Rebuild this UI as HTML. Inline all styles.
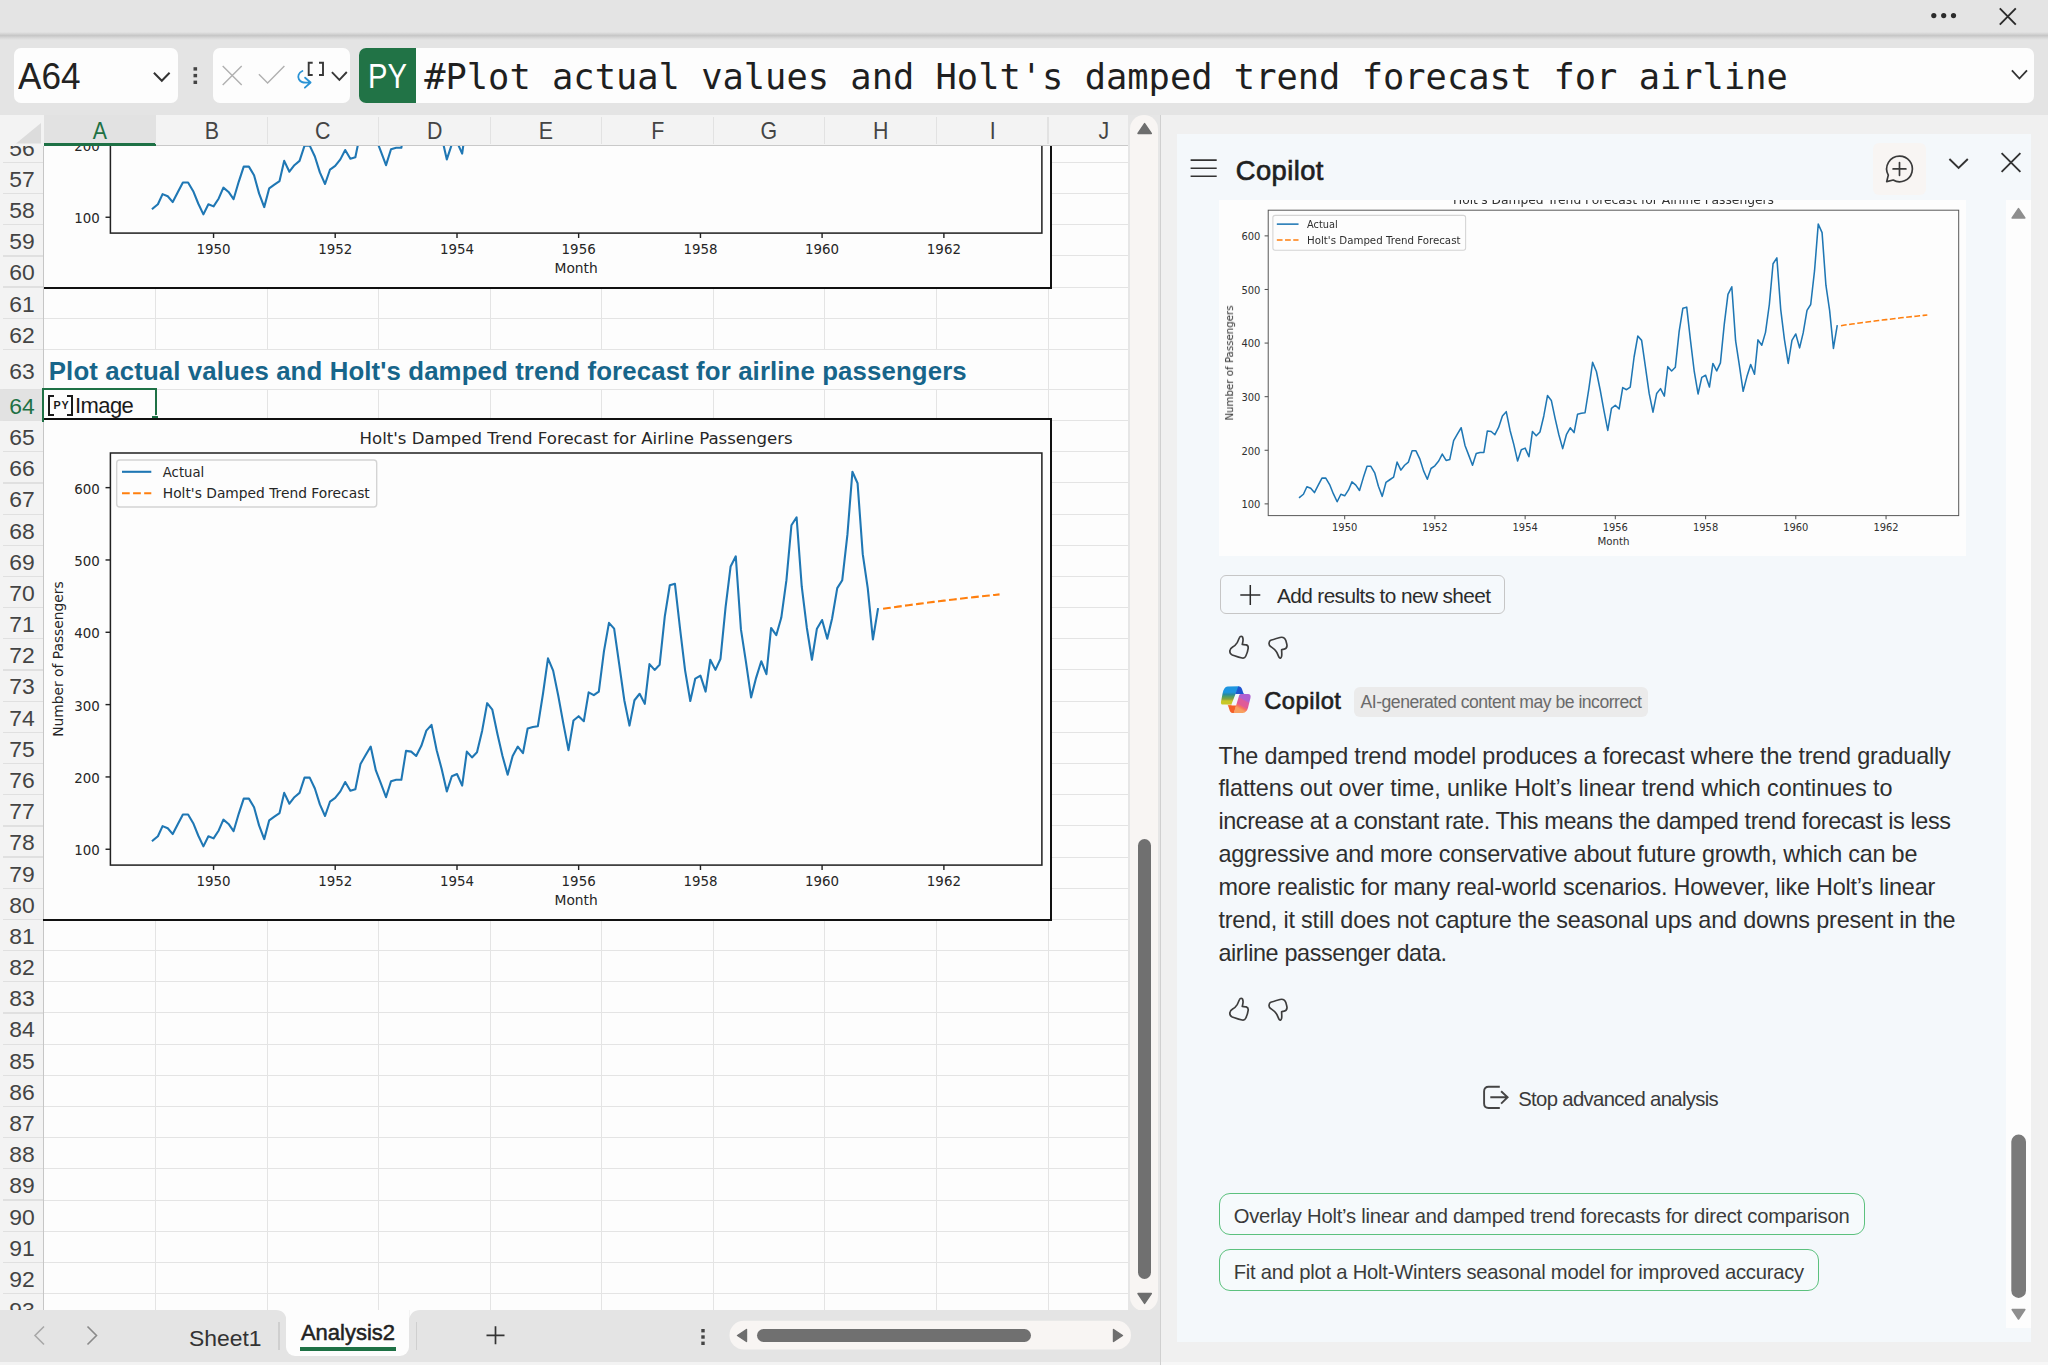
<!DOCTYPE html><html><head><meta charset="utf-8"><title>Excel Copilot</title><style>
*{box-sizing:border-box;margin:0;padding:0}
html,body{width:2048px;height:1365px;overflow:hidden;background:#f0f0f0;font-family:'Liberation Sans',sans-serif;color:#242424}
.abs{position:absolute}
  .rh{position:absolute;left:0;width:44px;text-align:center;font-size:22.9px;color:#444;line-height:24px;height:24px}
.ch{position:absolute;top:115px;height:28.5px;text-align:center;font-size:24px;color:#444;line-height:31.5px;transform:scaleX(0.89)}
.ptext{position:absolute;left:1219px;font-size:22.6px;color:#2b2b2b;white-space:nowrap;line-height:26px;height:26px}
</style></head><body>
<div class="abs" style="left:0;top:0;width:2048px;height:115px;background:#e4e4e4"></div>
<div class="abs" style="left:0;top:32px;width:2048px;height:8px;background:linear-gradient(#e4e4e4,#c6c6c6 45%,#d6d6d6 70%,#e4e4e4)"></div>
<svg class="abs" style="left:1920px;top:0" width="128" height="34" viewBox="0 0 128 34"><g fill="#2b2b2b"><circle cx="13.8" cy="15.6" r="2.6"/><circle cx="23.7" cy="15.6" r="2.6"/><circle cx="33.5" cy="15.6" r="2.6"/></g><path d="M79.8 8.4 L95.8 24.6 M95.8 8.4 L79.8 24.6" stroke="#2b2b2b" stroke-width="1.9" fill="none"/></svg>
<div class="abs" style="left:14px;top:48px;width:164px;height:54.7px;background:#fdfdfd;border-radius:7px"></div>
<div id="nb" class="abs" style="left:18.3px;top:58.17px;font-size:37.60px;line-height:1;white-space:nowrap;color:#222;font-weight:normal;letter-spacing:0.000px;transform:scaleX(0.935);transform-origin:0 0;">A64</div>
<svg class="abs" style="left:150px;top:66px" width="24" height="20" viewBox="0 0 24 20"><path d="M3.9 6.8 L11.8 14.8 L19.6 6.8" stroke="#333" stroke-width="2" fill="none"/></svg>
<svg class="abs" style="left:190px;top:62px" width="10" height="26" viewBox="0 0 10 26"><g fill="#444"><rect x="3.5" y="5.2" width="3.6" height="3.4"/><rect x="3.5" y="11.9" width="3.6" height="3.4"/><rect x="3.5" y="18.6" width="3.6" height="3.4"/></g></svg>
<div class="abs" style="left:212.8px;top:48px;width:137.2px;height:54.7px;background:#fdfdfd;border-radius:7px"></div>
<svg class="abs" style="left:212px;top:48px" width="140" height="55" viewBox="0 0 140 55"><path d="M10.7 18 L29.7 36.9 M29.7 18 L10.7 36.9" stroke="#b0b0b0" stroke-width="1.4" fill="none"/><path d="M46.9 26.3 L55.6 35 L72.4 18" stroke="#b0b0b0" stroke-width="1.4" fill="none"/><path d="M90.4 23 C86.5 24.6 85.4 28.6 86.9 31.2 C88.4 34 91.5 34.6 94 34.6 L98 34.5 M93.1 29.7 L98.6 34.5 L92.9 39.7" stroke="#2a93d5" stroke-width="1.8" fill="none" stroke-linecap="round" stroke-linejoin="round"/><path d="M100.7 14.8 L96.7 14.8 L96.7 27 L100.7 27 M107 14.8 L111 14.8 L111 27 L107 27" stroke="#383838" stroke-width="1.9" fill="none"/><path d="M119.9 24.1 L127.4 31.8 L134.8 24" stroke="#383838" stroke-width="1.9" fill="none"/></svg>
<div class="abs" style="left:358.5px;top:48px;width:1675.5px;height:54.7px;background:#fdfdfd;border-radius:7px;overflow:hidden"><div style="position:absolute;left:0;top:0;width:57.5px;height:55px;background:#217346"></div></div>
<div id="py" class="abs" style="left:368.0px;top:59.28px;font-size:34.40px;line-height:1;white-space:nowrap;color:#fff;font-weight:normal;letter-spacing:0.000px;transform:scaleX(0.850);transform-origin:0 0;">PY</div>
<div class="abs" style="left:424.2px;top:55px;font-family:'DejaVu Sans Mono','Liberation Mono',monospace;font-size:35.4px;line-height:44px;color:#1f1f1f;white-space:pre">#Plot actual values and Holt's damped trend forecast for airline</div>
<svg class="abs" style="left:2006px;top:64px" width="26" height="20" viewBox="0 0 26 20"><path d="M5.9 6.3 L13.4 14.5 L21 6.3" stroke="#333" stroke-width="1.8" fill="none"/></svg>
<div class="abs" style="left:0;top:115px;width:1129px;height:1195px;background:#fdfdfd;overflow:hidden" id="sheet">
<div class="abs" style="left:44px;top:16px;width:1085px;height:1px;background:#e4e4e4"></div><div class="abs" style="left:44px;top:47px;width:1085px;height:1px;background:#e4e4e4"></div><div class="abs" style="left:44px;top:78px;width:1085px;height:1px;background:#e4e4e4"></div><div class="abs" style="left:44px;top:109px;width:1085px;height:1px;background:#e4e4e4"></div><div class="abs" style="left:44px;top:140px;width:1085px;height:1px;background:#e4e4e4"></div><div class="abs" style="left:44px;top:172px;width:1085px;height:1px;background:#e4e4e4"></div><div class="abs" style="left:44px;top:203px;width:1085px;height:1px;background:#e4e4e4"></div><div class="abs" style="left:44px;top:234px;width:1085px;height:1px;background:#e4e4e4"></div><div class="abs" style="left:44px;top:274px;width:1085px;height:1px;background:#e4e4e4"></div><div class="abs" style="left:44px;top:305px;width:1085px;height:1px;background:#e4e4e4"></div><div class="abs" style="left:44px;top:336px;width:1085px;height:1px;background:#e4e4e4"></div><div class="abs" style="left:44px;top:367px;width:1085px;height:1px;background:#e4e4e4"></div><div class="abs" style="left:44px;top:399px;width:1085px;height:1px;background:#e4e4e4"></div><div class="abs" style="left:44px;top:430px;width:1085px;height:1px;background:#e4e4e4"></div><div class="abs" style="left:44px;top:461px;width:1085px;height:1px;background:#e4e4e4"></div><div class="abs" style="left:44px;top:492px;width:1085px;height:1px;background:#e4e4e4"></div><div class="abs" style="left:44px;top:523px;width:1085px;height:1px;background:#e4e4e4"></div><div class="abs" style="left:44px;top:554px;width:1085px;height:1px;background:#e4e4e4"></div><div class="abs" style="left:44px;top:586px;width:1085px;height:1px;background:#e4e4e4"></div><div class="abs" style="left:44px;top:617px;width:1085px;height:1px;background:#e4e4e4"></div><div class="abs" style="left:44px;top:648px;width:1085px;height:1px;background:#e4e4e4"></div><div class="abs" style="left:44px;top:679px;width:1085px;height:1px;background:#e4e4e4"></div><div class="abs" style="left:44px;top:710px;width:1085px;height:1px;background:#e4e4e4"></div><div class="abs" style="left:44px;top:742px;width:1085px;height:1px;background:#e4e4e4"></div><div class="abs" style="left:44px;top:773px;width:1085px;height:1px;background:#e4e4e4"></div><div class="abs" style="left:44px;top:804px;width:1085px;height:1px;background:#e4e4e4"></div><div class="abs" style="left:44px;top:835px;width:1085px;height:1px;background:#e4e4e4"></div><div class="abs" style="left:44px;top:866px;width:1085px;height:1px;background:#e4e4e4"></div><div class="abs" style="left:44px;top:897px;width:1085px;height:1px;background:#e4e4e4"></div><div class="abs" style="left:44px;top:929px;width:1085px;height:1px;background:#e4e4e4"></div><div class="abs" style="left:44px;top:960px;width:1085px;height:1px;background:#e4e4e4"></div><div class="abs" style="left:44px;top:991px;width:1085px;height:1px;background:#e4e4e4"></div><div class="abs" style="left:44px;top:1022px;width:1085px;height:1px;background:#e4e4e4"></div><div class="abs" style="left:44px;top:1053px;width:1085px;height:1px;background:#e4e4e4"></div><div class="abs" style="left:44px;top:1085px;width:1085px;height:1px;background:#e4e4e4"></div><div class="abs" style="left:44px;top:1116px;width:1085px;height:1px;background:#e4e4e4"></div><div class="abs" style="left:44px;top:1147px;width:1085px;height:1px;background:#e4e4e4"></div><div class="abs" style="left:44px;top:1178px;width:1085px;height:1px;background:#e4e4e4"></div><div class="abs" style="left:44px;top:1209px;width:1085px;height:1px;background:#e4e4e4"></div><div class="abs" style="left:155px;top:31px;width:1px;height:1170px;background:#e4e4e4"></div><div class="abs" style="left:267px;top:31px;width:1px;height:1170px;background:#e4e4e4"></div><div class="abs" style="left:378px;top:31px;width:1px;height:1170px;background:#e4e4e4"></div><div class="abs" style="left:490px;top:31px;width:1px;height:1170px;background:#e4e4e4"></div><div class="abs" style="left:601px;top:31px;width:1px;height:1170px;background:#e4e4e4"></div><div class="abs" style="left:713px;top:31px;width:1px;height:1170px;background:#e4e4e4"></div><div class="abs" style="left:824px;top:31px;width:1px;height:1170px;background:#e4e4e4"></div><div class="abs" style="left:936px;top:31px;width:1px;height:1170px;background:#e4e4e4"></div><div class="abs" style="left:1048px;top:31px;width:1px;height:1170px;background:#e4e4e4"></div><div class="abs" style="left:1159px;top:31px;width:1px;height:1170px;background:#e4e4e4"></div>
<div class="abs" style="left:0;top:0;width:1129px;height:31px;background:#f3f3f3"></div>
<div class="abs" style="left:0;top:31px;width:43.6px;height:1170px;background:#f3f3f3"></div>
<div class="abs" style="left:43px;top:31px;width:1.2px;height:1170px;background:#c6c6c6"></div>
<div class="abs" style="left:44px;top:29.8px;width:1085px;height:1.2px;background:#c9c9c9"></div>
<div class="abs" style="left:44px;top:0;width:111.6px;height:31px;background:#e2e2e2"></div>
<div class="abs" style="left:44px;top:28.4px;width:111.6px;height:2.6px;background:#1e7145"></div>
<svg class="abs" style="left:0;top:0" width="44" height="31" viewBox="0 0 44 31"><path d="M41 8 L41 28.5 L16 28.5 Z" fill="#dcdcdc"/></svg>
<div class="ch" style="left:44.0px;width:111.6px;top:0;color:#1e7145">A</div>
<div class="ch" style="left:155.6px;width:111.6px;top:0;color:#444">B</div>
<div class="abs" style="left:155.0px;top:2px;width:1.2px;height:27px;background:#e2e2e2"></div>
<div class="ch" style="left:267.1px;width:111.6px;top:0;color:#444">C</div>
<div class="abs" style="left:266.5px;top:2px;width:1.2px;height:27px;background:#e2e2e2"></div>
<div class="ch" style="left:378.7px;width:111.6px;top:0;color:#444">D</div>
<div class="abs" style="left:378.1px;top:2px;width:1.2px;height:27px;background:#e2e2e2"></div>
<div class="ch" style="left:490.2px;width:111.6px;top:0;color:#444">E</div>
<div class="abs" style="left:489.6px;top:2px;width:1.2px;height:27px;background:#e2e2e2"></div>
<div class="ch" style="left:601.8px;width:111.6px;top:0;color:#444">F</div>
<div class="abs" style="left:601.2px;top:2px;width:1.2px;height:27px;background:#e2e2e2"></div>
<div class="ch" style="left:713.4px;width:111.6px;top:0;color:#444">G</div>
<div class="abs" style="left:712.8px;top:2px;width:1.2px;height:27px;background:#e2e2e2"></div>
<div class="ch" style="left:824.9px;width:111.6px;top:0;color:#444">H</div>
<div class="abs" style="left:824.3px;top:2px;width:1.2px;height:27px;background:#e2e2e2"></div>
<div class="ch" style="left:936.5px;width:111.6px;top:0;color:#444">I</div>
<div class="abs" style="left:935.9px;top:2px;width:1.2px;height:27px;background:#e2e2e2"></div>
<div class="ch" style="left:1048.0px;width:111.6px;top:0;color:#444">J</div>
<div class="abs" style="left:1047.4px;top:2px;width:1.2px;height:27px;background:#e2e2e2"></div>
<div class="rh" style="top:21px;color:#444">56</div>
<div class="abs" style="left:3px;top:15.5px;width:40px;height:1.3px;background:#e0e0e0"></div>
<div class="rh" style="top:52px;color:#444">57</div>
<div class="abs" style="left:3px;top:46.7px;width:40px;height:1.3px;background:#e0e0e0"></div>
<div class="rh" style="top:83px;color:#444">58</div>
<div class="abs" style="left:3px;top:77.9px;width:40px;height:1.3px;background:#e0e0e0"></div>
<div class="rh" style="top:114px;color:#444">59</div>
<div class="abs" style="left:3px;top:109.1px;width:40px;height:1.3px;background:#e0e0e0"></div>
<div class="rh" style="top:145px;color:#444">60</div>
<div class="abs" style="left:3px;top:140.3px;width:40px;height:1.3px;background:#e0e0e0"></div>
<div class="rh" style="top:177px;color:#444">61</div>
<div class="abs" style="left:3px;top:171.4px;width:40px;height:1.3px;background:#e0e0e0"></div>
<div class="rh" style="top:208px;color:#444">62</div>
<div class="abs" style="left:3px;top:202.6px;width:40px;height:1.3px;background:#e0e0e0"></div>
<div class="rh" style="top:244px;color:#444">63</div>
<div class="abs" style="left:3px;top:234.2px;width:40px;height:1.3px;background:#e0e0e0"></div>
<div class="abs" style="left:0;top:273.8px;width:42.5px;height:32.1px;background:#e2e2e2"></div>
<div class="rh" style="top:279px;color:#1e7145">64</div>
<div class="abs" style="left:3px;top:273.9px;width:40px;height:1.3px;background:#e0e0e0"></div>
<div class="rh" style="top:310px;color:#444">65</div>
<div class="abs" style="left:3px;top:304.9px;width:40px;height:1.3px;background:#e0e0e0"></div>
<div class="rh" style="top:341px;color:#444">66</div>
<div class="abs" style="left:3px;top:336.1px;width:40px;height:1.3px;background:#e0e0e0"></div>
<div class="rh" style="top:372px;color:#444">67</div>
<div class="abs" style="left:3px;top:367.3px;width:40px;height:1.3px;background:#e0e0e0"></div>
<div class="rh" style="top:404px;color:#444">68</div>
<div class="abs" style="left:3px;top:398.5px;width:40px;height:1.3px;background:#e0e0e0"></div>
<div class="rh" style="top:435px;color:#444">69</div>
<div class="abs" style="left:3px;top:429.6px;width:40px;height:1.3px;background:#e0e0e0"></div>
<div class="rh" style="top:466px;color:#444">70</div>
<div class="abs" style="left:3px;top:460.8px;width:40px;height:1.3px;background:#e0e0e0"></div>
<div class="rh" style="top:497px;color:#444">71</div>
<div class="abs" style="left:3px;top:492.0px;width:40px;height:1.3px;background:#e0e0e0"></div>
<div class="rh" style="top:528px;color:#444">72</div>
<div class="abs" style="left:3px;top:523.2px;width:40px;height:1.3px;background:#e0e0e0"></div>
<div class="rh" style="top:559px;color:#444">73</div>
<div class="abs" style="left:3px;top:554.4px;width:40px;height:1.3px;background:#e0e0e0"></div>
<div class="rh" style="top:591px;color:#444">74</div>
<div class="abs" style="left:3px;top:585.5px;width:40px;height:1.3px;background:#e0e0e0"></div>
<div class="rh" style="top:622px;color:#444">75</div>
<div class="abs" style="left:3px;top:616.7px;width:40px;height:1.3px;background:#e0e0e0"></div>
<div class="rh" style="top:653px;color:#444">76</div>
<div class="abs" style="left:3px;top:647.9px;width:40px;height:1.3px;background:#e0e0e0"></div>
<div class="rh" style="top:684px;color:#444">77</div>
<div class="abs" style="left:3px;top:679.1px;width:40px;height:1.3px;background:#e0e0e0"></div>
<div class="rh" style="top:715px;color:#444">78</div>
<div class="abs" style="left:3px;top:710.3px;width:40px;height:1.3px;background:#e0e0e0"></div>
<div class="rh" style="top:747px;color:#444">79</div>
<div class="abs" style="left:3px;top:741.4px;width:40px;height:1.3px;background:#e0e0e0"></div>
<div class="rh" style="top:778px;color:#444">80</div>
<div class="abs" style="left:3px;top:772.6px;width:40px;height:1.3px;background:#e0e0e0"></div>
<div class="rh" style="top:809px;color:#444">81</div>
<div class="abs" style="left:3px;top:803.8px;width:40px;height:1.3px;background:#e0e0e0"></div>
<div class="rh" style="top:840px;color:#444">82</div>
<div class="abs" style="left:3px;top:835.0px;width:40px;height:1.3px;background:#e0e0e0"></div>
<div class="rh" style="top:871px;color:#444">83</div>
<div class="abs" style="left:3px;top:866.2px;width:40px;height:1.3px;background:#e0e0e0"></div>
<div class="rh" style="top:902px;color:#444">84</div>
<div class="abs" style="left:3px;top:897.3px;width:40px;height:1.3px;background:#e0e0e0"></div>
<div class="rh" style="top:934px;color:#444">85</div>
<div class="abs" style="left:3px;top:928.5px;width:40px;height:1.3px;background:#e0e0e0"></div>
<div class="rh" style="top:965px;color:#444">86</div>
<div class="abs" style="left:3px;top:959.7px;width:40px;height:1.3px;background:#e0e0e0"></div>
<div class="rh" style="top:996px;color:#444">87</div>
<div class="abs" style="left:3px;top:990.9px;width:40px;height:1.3px;background:#e0e0e0"></div>
<div class="rh" style="top:1027px;color:#444">88</div>
<div class="abs" style="left:3px;top:1022.1px;width:40px;height:1.3px;background:#e0e0e0"></div>
<div class="rh" style="top:1058px;color:#444">89</div>
<div class="abs" style="left:3px;top:1053.2px;width:40px;height:1.3px;background:#e0e0e0"></div>
<div class="rh" style="top:1090px;color:#444">90</div>
<div class="abs" style="left:3px;top:1084.4px;width:40px;height:1.3px;background:#e0e0e0"></div>
<div class="rh" style="top:1121px;color:#444">91</div>
<div class="abs" style="left:3px;top:1115.6px;width:40px;height:1.3px;background:#e0e0e0"></div>
<div class="rh" style="top:1152px;color:#444">92</div>
<div class="abs" style="left:3px;top:1146.8px;width:40px;height:1.3px;background:#e0e0e0"></div>
<div class="rh" style="top:1183px;color:#444">93</div>
<div class="abs" style="left:3px;top:1178.0px;width:40px;height:1.3px;background:#e0e0e0"></div>
<div class="abs" style="left:0;top:0;width:43.8px;height:31px;background:#f3f3f3"></div>
<svg class="abs" style="left:0;top:0" width="44" height="31" viewBox="0 0 44 31"><path d="M41 8 L41 28.5 L16 28.5 Z" fill="#dcdcdc"/></svg>
<div class="abs" style="left:44px;top:31px;width:1085px;height:1164px;overflow:hidden">
<div class="abs" style="left:0;top:-359.5px;width:1007.2px;height:500.6px">
<svg width="1007.20" height="500.60" viewBox="0 0 1007.2 500.6" preserveAspectRatio="none" style="display:block;">
<rect x="0" y="0" width="1007.2" height="500.6" fill="#fdfdfd"/>
<polyline fill="none" stroke="#1f77b4" stroke-width="2.09" stroke-linejoin="round" stroke-linecap="square" points="108.74,421.58 113.91,417.24 118.57,407.12 123.74,409.29 128.74,415.07 133.90,404.95 138.90,395.55 144.07,395.55 149.23,404.22 154.23,416.52 159.40,427.37 164.40,417.24 169.56,419.41 174.73,411.46 179.39,400.61 184.56,404.95 189.56,412.18 194.72,394.82 199.72,379.63 204.89,379.63 210.05,388.31 215.05,406.39 220.22,420.14 225.22,401.33 230.38,397.72 235.55,394.10 240.21,373.85 245.38,384.70 250.38,378.19 255.54,373.85 260.54,358.66 265.71,358.66 270.87,369.51 275.87,385.42 281.04,396.99 286.04,382.53 291.20,378.91 296.37,372.40 301.20,363.00 306.37,371.68 311.36,370.23 316.53,344.92 321.53,336.24 326.69,327.56 331.86,351.43 336.86,364.45 342.02,378.19 347.02,362.28 352.19,360.83 357.35,360.83 362.02,331.90 367.19,332.62 372.18,336.96 377.35,326.84 382.35,311.65 387.51,305.86 392.68,331.18 397.68,349.98 402.84,372.40 407.84,357.21 413.01,355.04 418.17,366.62 422.84,332.62 428.01,338.41 433.00,333.35 438.17,311.65 443.17,284.17 448.33,290.68 453.50,315.27 458.50,336.96 463.66,355.77 468.66,336.96 473.83,327.56 478.99,334.07 483.66,309.48 488.83,308.03 493.82,307.31 498.99,274.77 503.99,239.33 509.15,251.62 514.32,276.94 519.32,304.42 524.48,331.18 529.48,301.53 534.65,297.19 539.82,302.25 544.65,273.32 549.81,276.21 554.81,272.60 559.98,232.09 564.98,203.89 570.14,209.67 575.31,245.84 580.31,281.27 585.47,306.59 590.47,281.27 595.64,274.77 600.80,284.89 605.47,245.11 610.63,250.90 615.63,245.84 620.80,197.38 625.80,166.28 630.96,164.83 636.13,210.40 641.13,251.62 646.29,282.00 651.29,259.58 656.46,256.68 661.62,272.60 666.29,240.77 671.45,250.90 676.45,240.05 681.62,187.98 686.62,147.48 691.78,137.35 696.95,210.40 701.95,242.94 707.11,278.38 712.11,258.85 717.28,242.22 722.44,255.24 727.11,208.95 732.27,216.18 737.27,198.83 742.44,161.22 747.44,106.25 752.60,98.30 757.77,167.73 762.77,208.23 767.93,240.77 772.93,209.67 778.10,201.00 783.26,219.80 788.10,199.55 793.26,169.17 798.26,161.22 803.43,115.65 808.42,52.73 813.59,64.30 818.76,135.18 823.75,169.17 828.92,220.52 833.92,190.15"/>
<rect x="66.40" y="34.00" width="931.50" height="412.10" fill="none" stroke="#222" stroke-width="1.52"/>
<line x1="169.56" y1="446.10" x2="169.56" y2="450.98" stroke="#222" stroke-width="1.42"/>
<text x="169.56" y="466.76" text-anchor="middle" textLength="34.07" lengthAdjust="spacingAndGlyphs" style="font-family:'DejaVu Sans','Liberation Sans',sans-serif;font-size:13.94px" fill="#262626">1950</text>
<line x1="291.20" y1="446.10" x2="291.20" y2="450.98" stroke="#222" stroke-width="1.42"/>
<text x="291.20" y="466.76" text-anchor="middle" textLength="34.07" lengthAdjust="spacingAndGlyphs" style="font-family:'DejaVu Sans','Liberation Sans',sans-serif;font-size:13.94px" fill="#262626">1952</text>
<line x1="413.01" y1="446.10" x2="413.01" y2="450.98" stroke="#222" stroke-width="1.42"/>
<text x="413.01" y="466.76" text-anchor="middle" textLength="34.07" lengthAdjust="spacingAndGlyphs" style="font-family:'DejaVu Sans','Liberation Sans',sans-serif;font-size:13.94px" fill="#262626">1954</text>
<line x1="534.65" y1="446.10" x2="534.65" y2="450.98" stroke="#222" stroke-width="1.42"/>
<text x="534.65" y="466.76" text-anchor="middle" textLength="34.07" lengthAdjust="spacingAndGlyphs" style="font-family:'DejaVu Sans','Liberation Sans',sans-serif;font-size:13.94px" fill="#262626">1956</text>
<line x1="656.46" y1="446.10" x2="656.46" y2="450.98" stroke="#222" stroke-width="1.42"/>
<text x="656.46" y="466.76" text-anchor="middle" textLength="34.07" lengthAdjust="spacingAndGlyphs" style="font-family:'DejaVu Sans','Liberation Sans',sans-serif;font-size:13.94px" fill="#262626">1958</text>
<line x1="778.10" y1="446.10" x2="778.10" y2="450.98" stroke="#222" stroke-width="1.42"/>
<text x="778.10" y="466.76" text-anchor="middle" textLength="34.07" lengthAdjust="spacingAndGlyphs" style="font-family:'DejaVu Sans','Liberation Sans',sans-serif;font-size:13.94px" fill="#262626">1960</text>
<line x1="899.90" y1="446.10" x2="899.90" y2="450.98" stroke="#222" stroke-width="1.42"/>
<text x="899.90" y="466.76" text-anchor="middle" textLength="34.07" lengthAdjust="spacingAndGlyphs" style="font-family:'DejaVu Sans','Liberation Sans',sans-serif;font-size:13.94px" fill="#262626">1962</text>
<line x1="61.52" y1="430.26" x2="66.40" y2="430.26" stroke="#222" stroke-width="1.42"/>
<text x="55.84" y="436.16" text-anchor="end" textLength="25.55" lengthAdjust="spacingAndGlyphs" style="font-family:'DejaVu Sans','Liberation Sans',sans-serif;font-size:13.94px" fill="#262626">100</text>
<line x1="61.52" y1="357.94" x2="66.40" y2="357.94" stroke="#222" stroke-width="1.42"/>
<text x="55.84" y="363.84" text-anchor="end" textLength="25.55" lengthAdjust="spacingAndGlyphs" style="font-family:'DejaVu Sans','Liberation Sans',sans-serif;font-size:13.94px" fill="#262626">200</text>
<line x1="61.52" y1="285.61" x2="66.40" y2="285.61" stroke="#222" stroke-width="1.42"/>
<text x="55.84" y="291.51" text-anchor="end" textLength="25.55" lengthAdjust="spacingAndGlyphs" style="font-family:'DejaVu Sans','Liberation Sans',sans-serif;font-size:13.94px" fill="#262626">300</text>
<line x1="61.52" y1="213.29" x2="66.40" y2="213.29" stroke="#222" stroke-width="1.42"/>
<text x="55.84" y="219.19" text-anchor="end" textLength="25.55" lengthAdjust="spacingAndGlyphs" style="font-family:'DejaVu Sans','Liberation Sans',sans-serif;font-size:13.94px" fill="#262626">400</text>
<line x1="61.52" y1="140.97" x2="66.40" y2="140.97" stroke="#222" stroke-width="1.42"/>
<text x="55.84" y="146.87" text-anchor="end" textLength="25.55" lengthAdjust="spacingAndGlyphs" style="font-family:'DejaVu Sans','Liberation Sans',sans-serif;font-size:13.94px" fill="#262626">500</text>
<line x1="61.52" y1="68.64" x2="66.40" y2="68.64" stroke="#222" stroke-width="1.42"/>
<text x="55.84" y="74.54" text-anchor="end" textLength="25.55" lengthAdjust="spacingAndGlyphs" style="font-family:'DejaVu Sans','Liberation Sans',sans-serif;font-size:13.94px" fill="#262626">600</text>
<text x="532.15" y="486.20" text-anchor="middle" textLength="43.27" lengthAdjust="spacingAndGlyphs" style="font-family:'DejaVu Sans','Liberation Sans',sans-serif;font-size:13.94px" fill="#262626">Month</text>
<text x="0.00" y="0.00" text-anchor="middle" textLength="155.46" lengthAdjust="spacingAndGlyphs" style="font-family:'DejaVu Sans','Liberation Sans',sans-serif;font-size:13.94px" fill="#262626" transform="translate(19.50,240.05) rotate(-90)">Number of Passengers</text>
</svg>
</div>
<div class="abs" style="left:-1px;top:-359.3px;width:1009.3px;height:502.6px;border:2px solid #111;border-left:none"></div>
</div>
<div class="abs" style="left:44.6px;top:235px;width:1002.6px;height:39px;background:#fdfdfd"></div>
<div id="heading" class="abs" style="left:48.8px;top:243.56px;font-size:25.80px;line-height:1;white-space:nowrap;color:#17658a;font-weight:bold;letter-spacing:0.118px;">Plot actual values and Holt's damped trend forecast for airline passengers</div>
<div class="abs" style="left:47.9px;top:279.5px;width:5.7px;height:21.7px;border:2px solid #1a1a1a;border-right:none"></div>
<div class="abs" style="left:67.4px;top:279.5px;width:5.5px;height:21.7px;border:2px solid #1a1a1a;border-left:none"></div>
<div id="cellpy" class="abs" style="left:53.6px;top:285.06px;font-size:10.80px;line-height:1;white-space:nowrap;color:#1a1a1a;font-weight:bold;letter-spacing:0.597px;">PY</div>
<div id="cellimg" class="abs" style="left:75.1px;top:279.78px;font-size:22.00px;line-height:1;white-space:nowrap;color:#1a1a1a;font-weight:normal;letter-spacing:-0.611px;">Image</div>
<div class="abs" style="left:44px;top:304.0px;width:1007.2px;height:500.6px">
<svg width="1007.20" height="500.60" viewBox="0 0 1007.2 500.6" preserveAspectRatio="none" style="display:block;">
<rect x="0" y="0" width="1007.2" height="500.6" fill="#fdfdfd"/>
<polyline fill="none" stroke="#1f77b4" stroke-width="2.09" stroke-linejoin="round" stroke-linecap="square" points="108.74,421.58 113.91,417.24 118.57,407.12 123.74,409.29 128.74,415.07 133.90,404.95 138.90,395.55 144.07,395.55 149.23,404.22 154.23,416.52 159.40,427.37 164.40,417.24 169.56,419.41 174.73,411.46 179.39,400.61 184.56,404.95 189.56,412.18 194.72,394.82 199.72,379.63 204.89,379.63 210.05,388.31 215.05,406.39 220.22,420.14 225.22,401.33 230.38,397.72 235.55,394.10 240.21,373.85 245.38,384.70 250.38,378.19 255.54,373.85 260.54,358.66 265.71,358.66 270.87,369.51 275.87,385.42 281.04,396.99 286.04,382.53 291.20,378.91 296.37,372.40 301.20,363.00 306.37,371.68 311.36,370.23 316.53,344.92 321.53,336.24 326.69,327.56 331.86,351.43 336.86,364.45 342.02,378.19 347.02,362.28 352.19,360.83 357.35,360.83 362.02,331.90 367.19,332.62 372.18,336.96 377.35,326.84 382.35,311.65 387.51,305.86 392.68,331.18 397.68,349.98 402.84,372.40 407.84,357.21 413.01,355.04 418.17,366.62 422.84,332.62 428.01,338.41 433.00,333.35 438.17,311.65 443.17,284.17 448.33,290.68 453.50,315.27 458.50,336.96 463.66,355.77 468.66,336.96 473.83,327.56 478.99,334.07 483.66,309.48 488.83,308.03 493.82,307.31 498.99,274.77 503.99,239.33 509.15,251.62 514.32,276.94 519.32,304.42 524.48,331.18 529.48,301.53 534.65,297.19 539.82,302.25 544.65,273.32 549.81,276.21 554.81,272.60 559.98,232.09 564.98,203.89 570.14,209.67 575.31,245.84 580.31,281.27 585.47,306.59 590.47,281.27 595.64,274.77 600.80,284.89 605.47,245.11 610.63,250.90 615.63,245.84 620.80,197.38 625.80,166.28 630.96,164.83 636.13,210.40 641.13,251.62 646.29,282.00 651.29,259.58 656.46,256.68 661.62,272.60 666.29,240.77 671.45,250.90 676.45,240.05 681.62,187.98 686.62,147.48 691.78,137.35 696.95,210.40 701.95,242.94 707.11,278.38 712.11,258.85 717.28,242.22 722.44,255.24 727.11,208.95 732.27,216.18 737.27,198.83 742.44,161.22 747.44,106.25 752.60,98.30 757.77,167.73 762.77,208.23 767.93,240.77 772.93,209.67 778.10,201.00 783.26,219.80 788.10,199.55 793.26,169.17 798.26,161.22 803.43,115.65 808.42,52.73 813.59,64.30 818.76,135.18 823.75,169.17 828.92,220.52 833.92,190.15"/>
<polyline fill="none" stroke="#ff7f0e" stroke-width="2.09" stroke-dasharray="7.74 3.35" points="839.08,189.79 844.25,189.05 848.92,188.33 854.08,187.61 859.08,186.91 864.25,186.22 869.24,185.54 874.41,184.86 879.58,184.20 884.57,183.55 889.74,182.91 894.74,182.28 899.90,181.65 905.07,181.04 909.74,180.44 914.90,179.84 919.90,179.26 925.07,178.68 930.06,178.11 935.23,177.55 940.40,177.00 945.39,176.46 950.56,175.92 955.56,175.39"/>
<rect x="66.40" y="34.00" width="931.50" height="412.10" fill="none" stroke="#222" stroke-width="1.52"/>
<line x1="169.56" y1="446.10" x2="169.56" y2="450.98" stroke="#222" stroke-width="1.42"/>
<text x="169.56" y="466.76" text-anchor="middle" textLength="34.07" lengthAdjust="spacingAndGlyphs" style="font-family:'DejaVu Sans','Liberation Sans',sans-serif;font-size:13.94px" fill="#262626">1950</text>
<line x1="291.20" y1="446.10" x2="291.20" y2="450.98" stroke="#222" stroke-width="1.42"/>
<text x="291.20" y="466.76" text-anchor="middle" textLength="34.07" lengthAdjust="spacingAndGlyphs" style="font-family:'DejaVu Sans','Liberation Sans',sans-serif;font-size:13.94px" fill="#262626">1952</text>
<line x1="413.01" y1="446.10" x2="413.01" y2="450.98" stroke="#222" stroke-width="1.42"/>
<text x="413.01" y="466.76" text-anchor="middle" textLength="34.07" lengthAdjust="spacingAndGlyphs" style="font-family:'DejaVu Sans','Liberation Sans',sans-serif;font-size:13.94px" fill="#262626">1954</text>
<line x1="534.65" y1="446.10" x2="534.65" y2="450.98" stroke="#222" stroke-width="1.42"/>
<text x="534.65" y="466.76" text-anchor="middle" textLength="34.07" lengthAdjust="spacingAndGlyphs" style="font-family:'DejaVu Sans','Liberation Sans',sans-serif;font-size:13.94px" fill="#262626">1956</text>
<line x1="656.46" y1="446.10" x2="656.46" y2="450.98" stroke="#222" stroke-width="1.42"/>
<text x="656.46" y="466.76" text-anchor="middle" textLength="34.07" lengthAdjust="spacingAndGlyphs" style="font-family:'DejaVu Sans','Liberation Sans',sans-serif;font-size:13.94px" fill="#262626">1958</text>
<line x1="778.10" y1="446.10" x2="778.10" y2="450.98" stroke="#222" stroke-width="1.42"/>
<text x="778.10" y="466.76" text-anchor="middle" textLength="34.07" lengthAdjust="spacingAndGlyphs" style="font-family:'DejaVu Sans','Liberation Sans',sans-serif;font-size:13.94px" fill="#262626">1960</text>
<line x1="899.90" y1="446.10" x2="899.90" y2="450.98" stroke="#222" stroke-width="1.42"/>
<text x="899.90" y="466.76" text-anchor="middle" textLength="34.07" lengthAdjust="spacingAndGlyphs" style="font-family:'DejaVu Sans','Liberation Sans',sans-serif;font-size:13.94px" fill="#262626">1962</text>
<line x1="61.52" y1="430.26" x2="66.40" y2="430.26" stroke="#222" stroke-width="1.42"/>
<text x="55.84" y="436.16" text-anchor="end" textLength="25.55" lengthAdjust="spacingAndGlyphs" style="font-family:'DejaVu Sans','Liberation Sans',sans-serif;font-size:13.94px" fill="#262626">100</text>
<line x1="61.52" y1="357.94" x2="66.40" y2="357.94" stroke="#222" stroke-width="1.42"/>
<text x="55.84" y="363.84" text-anchor="end" textLength="25.55" lengthAdjust="spacingAndGlyphs" style="font-family:'DejaVu Sans','Liberation Sans',sans-serif;font-size:13.94px" fill="#262626">200</text>
<line x1="61.52" y1="285.61" x2="66.40" y2="285.61" stroke="#222" stroke-width="1.42"/>
<text x="55.84" y="291.51" text-anchor="end" textLength="25.55" lengthAdjust="spacingAndGlyphs" style="font-family:'DejaVu Sans','Liberation Sans',sans-serif;font-size:13.94px" fill="#262626">300</text>
<line x1="61.52" y1="213.29" x2="66.40" y2="213.29" stroke="#222" stroke-width="1.42"/>
<text x="55.84" y="219.19" text-anchor="end" textLength="25.55" lengthAdjust="spacingAndGlyphs" style="font-family:'DejaVu Sans','Liberation Sans',sans-serif;font-size:13.94px" fill="#262626">400</text>
<line x1="61.52" y1="140.97" x2="66.40" y2="140.97" stroke="#222" stroke-width="1.42"/>
<text x="55.84" y="146.87" text-anchor="end" textLength="25.55" lengthAdjust="spacingAndGlyphs" style="font-family:'DejaVu Sans','Liberation Sans',sans-serif;font-size:13.94px" fill="#262626">500</text>
<line x1="61.52" y1="68.64" x2="66.40" y2="68.64" stroke="#222" stroke-width="1.42"/>
<text x="55.84" y="74.54" text-anchor="end" textLength="25.55" lengthAdjust="spacingAndGlyphs" style="font-family:'DejaVu Sans','Liberation Sans',sans-serif;font-size:13.94px" fill="#262626">600</text>
<text x="532.15" y="486.20" text-anchor="middle" textLength="43.27" lengthAdjust="spacingAndGlyphs" style="font-family:'DejaVu Sans','Liberation Sans',sans-serif;font-size:13.94px" fill="#262626">Month</text>
<text x="0.00" y="0.00" text-anchor="middle" textLength="155.46" lengthAdjust="spacingAndGlyphs" style="font-family:'DejaVu Sans','Liberation Sans',sans-serif;font-size:13.94px" fill="#262626" transform="translate(19.50,240.05) rotate(-90)">Number of Passengers</text>
<text x="532.15" y="25.00" text-anchor="middle" textLength="433.09" lengthAdjust="spacingAndGlyphs" style="font-family:'DejaVu Sans','Liberation Sans',sans-serif;font-size:16.73px" fill="#262626">Holt's Damped Trend Forecast for Airline Passengers</text>
<rect x="72.70" y="41.00" width="260.00" height="47.00" rx="3" fill="#fdfdfd" fill-opacity="0.8" stroke="#d4d4d4" stroke-width="1.4"/>
<line x1="78.00" y1="52.80" x2="107.30" y2="52.80" stroke="#1f77b4" stroke-width="2.09"/>
<line x1="78.00" y1="74.20" x2="107.30" y2="74.20" stroke="#ff7f0e" stroke-width="2.09" stroke-dasharray="7.74 3.35"/>
<text x="118.80" y="57.80" text-anchor="start" textLength="41.50" lengthAdjust="spacingAndGlyphs" style="font-family:'DejaVu Sans','Liberation Sans',sans-serif;font-size:13.94px" fill="#262626">Actual</text>
<text x="118.80" y="79.20" text-anchor="start" textLength="206.98" lengthAdjust="spacingAndGlyphs" style="font-family:'DejaVu Sans','Liberation Sans',sans-serif;font-size:13.94px" fill="#262626">Holt's Damped Trend Forecast</text>
</svg>
</div>
<div class="abs" style="left:43px;top:303.0px;width:1009.3px;height:502.6px;border:2px solid #111;border-left:none"></div>
<div class="abs" style="left:42.2px;top:272.5px;width:2.2px;height:34.7px;background:#1e7145"></div>
<div class="abs" style="left:42.2px;top:272.5px;width:115.1px;height:2.2px;background:#1e7145"></div>
<div class="abs" style="left:155.1px;top:272.5px;width:2.2px;height:27.5px;background:#1e7145"></div>
<div class="abs" style="left:152px;top:301.0px;width:5.8px;height:2.2px;background:#1e7145"></div>
</div>
<div class="abs" style="left:1128.2px;top:115px;width:32px;height:1250px;background:#e6e6e6"></div>
<div class="abs" style="left:1130.4px;top:114.6px;width:28px;height:1196px;background:#f8f5f3;border-radius:14px"></div>
<svg class="abs" style="left:1130px;top:115px" width="29" height="1196" viewBox="0 0 29 1196"><path d="M8 18.5 L21.3 18.5 L14.6 8.6 Z" fill="#6e6e6e" stroke="#6e6e6e" stroke-width="1.5" stroke-linejoin="round"/><path d="M8 1178.5 L21.3 1178.5 L14.6 1188.4 Z" fill="#6e6e6e" stroke="#6e6e6e" stroke-width="1.5" stroke-linejoin="round"/><rect x="8" y="724" width="13" height="440" rx="6.5" fill="#707070"/></svg>
<div class="abs" style="left:1159.8px;top:115px;width:1.4px;height:1250px;background:#d0d0d0"></div>
<div class="abs" style="left:0;top:1310px;width:1160px;height:55px;background:#e4e4e4"></div>
<div class="abs" style="left:0;top:1361.5px;width:1160px;height:3.5px;background:#f3f3f3"></div>
<div class="abs" style="left:286.3px;top:1310px;width:123.1px;height:45.8px;background:#fdfdfd;border-radius:0 0 9px 9px"></div>
<svg class="abs" style="left:276px;top:1310px" width="144" height="12" viewBox="0 0 144 12"><path d="M0 0 L10.3 0 L10.3 10 C10.3 4 6 0 0 0 Z M144 0 L133.4 0 L133.4 10 C133.4 4 138 0 144 0 Z" fill="#fdfdfd"/></svg>
<div class="abs" style="left:300px;top:1319px;width:96px;text-align:center;font-size:22px;color:#222;line-height:28px;white-space:nowrap;-webkit-text-stroke:0.5px #222" id="tabA">Analysis2</div>
<div class="abs" style="left:300px;top:1347px;width:96px;height:4px;background:#1e7145"></div>
<div class="abs" style="left:189px;top:1324px;font-size:22.9px;color:#333;line-height:28px;white-space:nowrap" id="tabS">Sheet1</div>
<div class="abs" style="left:278.4px;top:1322px;width:1.3px;height:28px;background:#cfcfcf"></div>
<div class="abs" style="left:416.2px;top:1322px;width:1.3px;height:28px;background:#cfcfcf"></div>
<svg class="abs" style="left:0;top:1310px" width="1160" height="55" viewBox="0 0 1160 55"><path d="M44 16.5 L35 25.5 L44 34.5" stroke="#a8a8a8" stroke-width="1.6" fill="none"/><path d="M87.5 16.5 L96.5 25.5 L87.5 34.5" stroke="#8a8a8a" stroke-width="1.6" fill="none"/><path d="M486.5 25.3 L504.5 25.3 M495.5 16.3 L495.5 34.3" stroke="#333" stroke-width="1.7" fill="none"/><g fill="#444"><rect x="701.3" y="19" width="3.4" height="3.4"/><rect x="701.3" y="25.3" width="3.4" height="3.4"/><rect x="701.3" y="31.6" width="3.4" height="3.4"/></g><rect x="729.5" y="10.8" width="401.5" height="28.7" rx="14.3" fill="#f8f5f3"/><path d="M746.5 19.5 L746.5 31.5 L737.5 25.5 Z" fill="#6e6e6e" stroke="#6e6e6e" stroke-width="1.4" stroke-linejoin="round"/><path d="M1113.5 19.5 L1113.5 31.5 L1122.5 25.5 Z" fill="#6e6e6e" stroke="#6e6e6e" stroke-width="1.4" stroke-linejoin="round"/><rect x="757" y="19" width="274" height="13" rx="6.5" fill="#707070"/></svg>
<div class="abs" style="left:1177.3px;top:134.2px;width:853.3px;height:1208.2px;background:#f4f8fb"></div>
<div class="abs" style="left:1161px;top:1361.8px;width:887px;height:3.2px;background:#f7f7f7"></div>
<svg class="abs" style="left:1185px;top:150px" width="40" height="36" viewBox="0 0 40 36"><path d="M5.6 10.1 H31.7 M5.6 18.2 H31.7 M5.6 26.3 H31.7" stroke="#333" stroke-width="1.6" fill="none"/></svg>
<div id="hdr" class="abs" style="left:1235.8px;top:156.69px;font-size:27.30px;line-height:1;white-space:nowrap;color:#1f1f1f;font-weight:normal;letter-spacing:0.431px;-webkit-text-stroke:0.7px #1f1f1f;">Copilot</div>
<div class="abs" style="left:1873px;top:142.8px;width:53px;height:52.1px;background:#f8f5f3;border-radius:6px"></div>
<svg class="abs" style="left:1873px;top:143px" width="53" height="52" viewBox="0 0 53 52"><path d="M26.5 13.1 A12.8 12.8 0 1 1 20.2 37.0 L13.7 38.6 L15.3 32.1 A12.8 12.8 0 0 1 26.5 13.1 Z" stroke="#3a3a3a" stroke-width="1.7" fill="none" stroke-linejoin="round"/><path d="M20.1 25.9 H32.9 M26.5 19.5 V32.3" stroke="#3a3a3a" stroke-width="1.7" fill="none" stroke-linecap="round"/></svg>
<svg class="abs" style="left:1940px;top:148px" width="90" height="30" viewBox="0 0 90 30"><path d="M9.4 11 L18.6 20 L27.8 11" stroke="#333" stroke-width="1.9" fill="none"/><path d="M61.6 5.1 L80.4 23.8 M80.4 5.1 L61.6 23.8" stroke="#333" stroke-width="1.9" fill="none"/></svg>
<div class="abs" style="left:1177.3px;top:200px;width:853.3px;height:1142.4px;overflow:hidden">
<div class="abs" style="left:42px;top:-15.4px;width:746.6px;height:371px;background:#fdfdfd">
<svg width="746.60" height="371.00" viewBox="0 0 1007.2 500.6" preserveAspectRatio="none" style="display:block;filter:blur(0.35px);">
<rect x="0" y="0" width="1007.2" height="500.6" fill="#fdfdfd"/>
<polyline fill="none" stroke="#1f77b4" stroke-width="2.09" stroke-linejoin="round" stroke-linecap="square" points="108.74,421.58 113.91,417.24 118.57,407.12 123.74,409.29 128.74,415.07 133.90,404.95 138.90,395.55 144.07,395.55 149.23,404.22 154.23,416.52 159.40,427.37 164.40,417.24 169.56,419.41 174.73,411.46 179.39,400.61 184.56,404.95 189.56,412.18 194.72,394.82 199.72,379.63 204.89,379.63 210.05,388.31 215.05,406.39 220.22,420.14 225.22,401.33 230.38,397.72 235.55,394.10 240.21,373.85 245.38,384.70 250.38,378.19 255.54,373.85 260.54,358.66 265.71,358.66 270.87,369.51 275.87,385.42 281.04,396.99 286.04,382.53 291.20,378.91 296.37,372.40 301.20,363.00 306.37,371.68 311.36,370.23 316.53,344.92 321.53,336.24 326.69,327.56 331.86,351.43 336.86,364.45 342.02,378.19 347.02,362.28 352.19,360.83 357.35,360.83 362.02,331.90 367.19,332.62 372.18,336.96 377.35,326.84 382.35,311.65 387.51,305.86 392.68,331.18 397.68,349.98 402.84,372.40 407.84,357.21 413.01,355.04 418.17,366.62 422.84,332.62 428.01,338.41 433.00,333.35 438.17,311.65 443.17,284.17 448.33,290.68 453.50,315.27 458.50,336.96 463.66,355.77 468.66,336.96 473.83,327.56 478.99,334.07 483.66,309.48 488.83,308.03 493.82,307.31 498.99,274.77 503.99,239.33 509.15,251.62 514.32,276.94 519.32,304.42 524.48,331.18 529.48,301.53 534.65,297.19 539.82,302.25 544.65,273.32 549.81,276.21 554.81,272.60 559.98,232.09 564.98,203.89 570.14,209.67 575.31,245.84 580.31,281.27 585.47,306.59 590.47,281.27 595.64,274.77 600.80,284.89 605.47,245.11 610.63,250.90 615.63,245.84 620.80,197.38 625.80,166.28 630.96,164.83 636.13,210.40 641.13,251.62 646.29,282.00 651.29,259.58 656.46,256.68 661.62,272.60 666.29,240.77 671.45,250.90 676.45,240.05 681.62,187.98 686.62,147.48 691.78,137.35 696.95,210.40 701.95,242.94 707.11,278.38 712.11,258.85 717.28,242.22 722.44,255.24 727.11,208.95 732.27,216.18 737.27,198.83 742.44,161.22 747.44,106.25 752.60,98.30 757.77,167.73 762.77,208.23 767.93,240.77 772.93,209.67 778.10,201.00 783.26,219.80 788.10,199.55 793.26,169.17 798.26,161.22 803.43,115.65 808.42,52.73 813.59,64.30 818.76,135.18 823.75,169.17 828.92,220.52 833.92,190.15"/>
<polyline fill="none" stroke="#ff7f0e" stroke-width="2.09" stroke-dasharray="7.74 3.35" points="839.08,189.79 844.25,189.05 848.92,188.33 854.08,187.61 859.08,186.91 864.25,186.22 869.24,185.54 874.41,184.86 879.58,184.20 884.57,183.55 889.74,182.91 894.74,182.28 899.90,181.65 905.07,181.04 909.74,180.44 914.90,179.84 919.90,179.26 925.07,178.68 930.06,178.11 935.23,177.55 940.40,177.00 945.39,176.46 950.56,175.92 955.56,175.39"/>
<rect x="66.40" y="34.00" width="931.50" height="412.10" fill="none" stroke="#555" stroke-width="1.32"/>
<line x1="169.56" y1="446.10" x2="169.56" y2="450.98" stroke="#555" stroke-width="1.42"/>
<text x="169.56" y="466.76" text-anchor="middle" textLength="34.07" lengthAdjust="spacingAndGlyphs" style="font-family:'DejaVu Sans','Liberation Sans',sans-serif;font-size:13.94px" fill="#303030">1950</text>
<line x1="291.20" y1="446.10" x2="291.20" y2="450.98" stroke="#555" stroke-width="1.42"/>
<text x="291.20" y="466.76" text-anchor="middle" textLength="34.07" lengthAdjust="spacingAndGlyphs" style="font-family:'DejaVu Sans','Liberation Sans',sans-serif;font-size:13.94px" fill="#303030">1952</text>
<line x1="413.01" y1="446.10" x2="413.01" y2="450.98" stroke="#555" stroke-width="1.42"/>
<text x="413.01" y="466.76" text-anchor="middle" textLength="34.07" lengthAdjust="spacingAndGlyphs" style="font-family:'DejaVu Sans','Liberation Sans',sans-serif;font-size:13.94px" fill="#303030">1954</text>
<line x1="534.65" y1="446.10" x2="534.65" y2="450.98" stroke="#555" stroke-width="1.42"/>
<text x="534.65" y="466.76" text-anchor="middle" textLength="34.07" lengthAdjust="spacingAndGlyphs" style="font-family:'DejaVu Sans','Liberation Sans',sans-serif;font-size:13.94px" fill="#303030">1956</text>
<line x1="656.46" y1="446.10" x2="656.46" y2="450.98" stroke="#555" stroke-width="1.42"/>
<text x="656.46" y="466.76" text-anchor="middle" textLength="34.07" lengthAdjust="spacingAndGlyphs" style="font-family:'DejaVu Sans','Liberation Sans',sans-serif;font-size:13.94px" fill="#303030">1958</text>
<line x1="778.10" y1="446.10" x2="778.10" y2="450.98" stroke="#555" stroke-width="1.42"/>
<text x="778.10" y="466.76" text-anchor="middle" textLength="34.07" lengthAdjust="spacingAndGlyphs" style="font-family:'DejaVu Sans','Liberation Sans',sans-serif;font-size:13.94px" fill="#303030">1960</text>
<line x1="899.90" y1="446.10" x2="899.90" y2="450.98" stroke="#555" stroke-width="1.42"/>
<text x="899.90" y="466.76" text-anchor="middle" textLength="34.07" lengthAdjust="spacingAndGlyphs" style="font-family:'DejaVu Sans','Liberation Sans',sans-serif;font-size:13.94px" fill="#303030">1962</text>
<line x1="61.52" y1="430.26" x2="66.40" y2="430.26" stroke="#555" stroke-width="1.42"/>
<text x="55.84" y="436.16" text-anchor="end" textLength="25.55" lengthAdjust="spacingAndGlyphs" style="font-family:'DejaVu Sans','Liberation Sans',sans-serif;font-size:13.94px" fill="#303030">100</text>
<line x1="61.52" y1="357.94" x2="66.40" y2="357.94" stroke="#555" stroke-width="1.42"/>
<text x="55.84" y="363.84" text-anchor="end" textLength="25.55" lengthAdjust="spacingAndGlyphs" style="font-family:'DejaVu Sans','Liberation Sans',sans-serif;font-size:13.94px" fill="#303030">200</text>
<line x1="61.52" y1="285.61" x2="66.40" y2="285.61" stroke="#555" stroke-width="1.42"/>
<text x="55.84" y="291.51" text-anchor="end" textLength="25.55" lengthAdjust="spacingAndGlyphs" style="font-family:'DejaVu Sans','Liberation Sans',sans-serif;font-size:13.94px" fill="#303030">300</text>
<line x1="61.52" y1="213.29" x2="66.40" y2="213.29" stroke="#555" stroke-width="1.42"/>
<text x="55.84" y="219.19" text-anchor="end" textLength="25.55" lengthAdjust="spacingAndGlyphs" style="font-family:'DejaVu Sans','Liberation Sans',sans-serif;font-size:13.94px" fill="#303030">400</text>
<line x1="61.52" y1="140.97" x2="66.40" y2="140.97" stroke="#555" stroke-width="1.42"/>
<text x="55.84" y="146.87" text-anchor="end" textLength="25.55" lengthAdjust="spacingAndGlyphs" style="font-family:'DejaVu Sans','Liberation Sans',sans-serif;font-size:13.94px" fill="#303030">500</text>
<line x1="61.52" y1="68.64" x2="66.40" y2="68.64" stroke="#555" stroke-width="1.42"/>
<text x="55.84" y="74.54" text-anchor="end" textLength="25.55" lengthAdjust="spacingAndGlyphs" style="font-family:'DejaVu Sans','Liberation Sans',sans-serif;font-size:13.94px" fill="#303030">600</text>
<text x="532.15" y="486.20" text-anchor="middle" textLength="43.27" lengthAdjust="spacingAndGlyphs" style="font-family:'DejaVu Sans','Liberation Sans',sans-serif;font-size:13.94px" fill="#303030">Month</text>
<text x="0.00" y="0.00" text-anchor="middle" textLength="155.46" lengthAdjust="spacingAndGlyphs" style="font-family:'DejaVu Sans','Liberation Sans',sans-serif;font-size:13.94px" fill="#303030" transform="translate(19.50,240.05) rotate(-90)">Number of Passengers</text>
<text x="532.15" y="25.00" text-anchor="middle" textLength="433.09" lengthAdjust="spacingAndGlyphs" style="font-family:'DejaVu Sans','Liberation Sans',sans-serif;font-size:16.73px" fill="#303030">Holt's Damped Trend Forecast for Airline Passengers</text>
<rect x="72.70" y="41.00" width="260.00" height="47.00" rx="3" fill="#fdfdfd" fill-opacity="0.8" stroke="#d4d4d4" stroke-width="1.4"/>
<line x1="78.00" y1="52.80" x2="107.30" y2="52.80" stroke="#1f77b4" stroke-width="2.09"/>
<line x1="78.00" y1="74.20" x2="107.30" y2="74.20" stroke="#ff7f0e" stroke-width="2.09" stroke-dasharray="7.74 3.35"/>
<text x="118.80" y="57.80" text-anchor="start" textLength="41.50" lengthAdjust="spacingAndGlyphs" style="font-family:'DejaVu Sans','Liberation Sans',sans-serif;font-size:13.94px" fill="#303030">Actual</text>
<text x="118.80" y="79.20" text-anchor="start" textLength="206.98" lengthAdjust="spacingAndGlyphs" style="font-family:'DejaVu Sans','Liberation Sans',sans-serif;font-size:13.94px" fill="#303030">Holt's Damped Trend Forecast</text>
</svg>
</div>
</div>
<div class="abs" style="left:2006px;top:200px;width:24.6px;height:1127.5px;background:#fdfdfd"></div>
<svg class="abs" style="left:2006px;top:200px" width="25" height="1128" viewBox="0 0 25 1128"><path d="M6.2 18 L18.8 18 L12.5 8.6 Z" fill="#8e8e8e" stroke="#8e8e8e" stroke-width="1.6" stroke-linejoin="round"/><path d="M6.2 1109.6 L18.8 1109.6 L12.5 1119 Z" fill="#8e8e8e" stroke="#8e8e8e" stroke-width="1.6" stroke-linejoin="round"/><rect x="5.3" y="934.5" width="14.7" height="163.5" rx="7.3" fill="#7a7a7a"/></svg>
<div class="abs" style="left:1219.5px;top:575.4px;width:285.7px;height:38.3px;border:1.4px solid #c6c6c6;border-radius:6px;background:#f5f9fc"></div>
<svg class="abs" style="left:1238px;top:583px" width="24" height="24" viewBox="0 0 24 24"><path d="M2.3 12 H22.3 M12.3 2 V22" stroke="#2b2b2b" stroke-width="1.5" fill="none"/></svg>
<div id="btn" class="abs" style="left:1276.9px;top:585.59px;font-size:20.80px;line-height:1;white-space:nowrap;color:#2b2b2b;font-weight:normal;letter-spacing:-0.590px;">Add results to new sheet</div>
<svg class="abs" style="left:1220px;top:628.0px" width="75" height="37" viewBox="0 0 2048 1010"><path d="M575 225 C615 225 630 270 630 320 C630 370 615 410 608 450 C640 455 680 452 715 462 C755 475 775 510 770 550 C762 620 735 700 705 765 C685 810 650 830 605 820 C510 800 420 765 335 735 C290 715 265 670 268 625 C270 580 300 545 345 520 C400 490 440 450 470 400 C500 345 515 290 535 255 C545 235 558 225 575 225 Z" stroke="#3d3d3d" stroke-width="46" fill="none" stroke-linejoin="round"/><path d="M1370 345 C1400 325 1560 280 1640 258 C1720 240 1780 290 1800 350 C1815 400 1832 450 1830 490 C1825 545 1780 580 1725 585 C1705 587 1690 588 1683 592 C1680 640 1695 720 1682 775 C1672 815 1645 835 1622 812 C1590 775 1580 700 1535 640 C1495 585 1440 545 1390 510 C1350 485 1335 450 1340 415 C1344 385 1352 360 1370 345 Z" stroke="#3d3d3d" stroke-width="46" fill="none" stroke-linejoin="round"/></svg>
<svg class="abs" style="left:1215px;top:680px" width="45" height="40" viewBox="0 0 1536 1365"><linearGradient id="lgA" x1="0" y1="0" x2="0" y2="1"><stop offset="0" stop-color="#1e96e0"/><stop offset="0.32" stop-color="#1e96e0"/><stop offset="0.45" stop-color="#2c8a9c"/><stop offset="0.58" stop-color="#57a05e"/><stop offset="0.7" stop-color="#8aa040"/><stop offset="0.8" stop-color="#c8c828"/><stop offset="1" stop-color="#c8c828"/></linearGradient><linearGradient id="lgB" x1="0.85" y1="0" x2="0.35" y2="1"><stop offset="0" stop-color="#b060d0"/><stop offset="0.3" stop-color="#b060d0"/><stop offset="0.4" stop-color="#e05a98"/><stop offset="0.62" stop-color="#e05a98"/><stop offset="0.72" stop-color="#f87060"/><stop offset="0.84" stop-color="#f8a060"/><stop offset="1" stop-color="#f8a060"/></linearGradient><path d="M430 225 L830 215 L690 500 L560 840 L260 840 C215 840 195 800 205 740 L260 450 C290 320 340 235 430 225 Z" fill="url(#lgA)"/><path d="M790 228 C860 195 910 260 930 330 L960 430 C970 460 985 470 1000 478 L695 478 Z" fill="#1e55d0"/><path d="M870 480 L1130 480 C1200 480 1230 530 1210 610 L1140 900 C1110 1040 1050 1125 950 1125 L640 1125 L730 840 L830 500 Z" fill="url(#lgB)"/><path d="M400 845 L570 845 L560 885 L470 905 C455 880 440 860 400 845 Z" fill="#fa9850"/><path d="M555 870 L722 870 L642 1125 L600 1125 C540 1125 510 1080 490 1010 L455 900 C452 890 450 880 445 872 Z" fill="#f56028"/></svg>
<div id="cop2" class="abs" style="left:1264.2px;top:689.25px;font-size:23.80px;line-height:1;white-space:nowrap;color:#1f1f1f;font-weight:normal;letter-spacing:0.446px;-webkit-text-stroke:0.65px #1f1f1f;">Copilot</div>
<div class="abs" style="left:1353.8px;top:687.2px;width:294.7px;height:29.8px;background:#ebebeb;border-radius:6px"></div>
<div id="badge" class="abs" style="left:1360.6px;top:694.10px;font-size:17.60px;line-height:1;white-space:nowrap;color:#6a6a6a;font-weight:normal;letter-spacing:-0.499px;">AI-generated content may be incorrect</div>
<div id="p0" class="abs" style="left:1218.4px;top:744.59px;font-size:23.40px;line-height:1;white-space:nowrap;color:#2e2e2e;font-weight:normal;letter-spacing:-0.170px;">The damped trend model produces a forecast where the trend gradually</div>
<div id="p1" class="abs" style="left:1218.4px;top:777.49px;font-size:23.40px;line-height:1;white-space:nowrap;color:#2e2e2e;font-weight:normal;letter-spacing:-0.060px;">flattens out over time, unlike Holt’s linear trend which continues to</div>
<div id="p2" class="abs" style="left:1218.4px;top:810.39px;font-size:23.40px;line-height:1;white-space:nowrap;color:#2e2e2e;font-weight:normal;letter-spacing:-0.383px;">increase at a constant rate. This means the damped trend forecast is less</div>
<div id="p3" class="abs" style="left:1218.4px;top:843.29px;font-size:23.40px;line-height:1;white-space:nowrap;color:#2e2e2e;font-weight:normal;letter-spacing:-0.228px;">aggressive and more conservative about future growth, which can be</div>
<div id="p4" class="abs" style="left:1218.4px;top:876.19px;font-size:23.40px;line-height:1;white-space:nowrap;color:#2e2e2e;font-weight:normal;letter-spacing:-0.221px;">more realistic for many real-world scenarios. However, like Holt’s linear</div>
<div id="p5" class="abs" style="left:1218.4px;top:909.09px;font-size:23.40px;line-height:1;white-space:nowrap;color:#2e2e2e;font-weight:normal;letter-spacing:-0.179px;">trend, it still does not capture the seasonal ups and downs present in the</div>
<div id="p6" class="abs" style="left:1218.4px;top:941.99px;font-size:23.40px;line-height:1;white-space:nowrap;color:#2e2e2e;font-weight:normal;letter-spacing:-0.364px;">airline passenger data.</div>
<svg class="abs" style="left:1220px;top:989.7px" width="75" height="37" viewBox="0 0 2048 1010"><path d="M575 225 C615 225 630 270 630 320 C630 370 615 410 608 450 C640 455 680 452 715 462 C755 475 775 510 770 550 C762 620 735 700 705 765 C685 810 650 830 605 820 C510 800 420 765 335 735 C290 715 265 670 268 625 C270 580 300 545 345 520 C400 490 440 450 470 400 C500 345 515 290 535 255 C545 235 558 225 575 225 Z" stroke="#3d3d3d" stroke-width="46" fill="none" stroke-linejoin="round"/><path d="M1370 345 C1400 325 1560 280 1640 258 C1720 240 1780 290 1800 350 C1815 400 1832 450 1830 490 C1825 545 1780 580 1725 585 C1705 587 1690 588 1683 592 C1680 640 1695 720 1682 775 C1672 815 1645 835 1622 812 C1590 775 1580 700 1535 640 C1495 585 1440 545 1390 510 C1350 485 1335 450 1340 415 C1344 385 1352 360 1370 345 Z" stroke="#3d3d3d" stroke-width="46" fill="none" stroke-linejoin="round"/></svg>
<svg class="abs" style="left:1481px;top:1084px" width="30" height="28" viewBox="0 0 30 28"><path d="M18.8 2.700 H7.600 C4.800 2.700 3.100 4.400 3.100 7.200 V19.500 C3.100 22.300 4.800 24 7.600 24 H18.800" stroke="#444" stroke-width="1.9" fill="none"/><path d="M9.300 13.300 H26 M20.100 7.200 L26.600 13.300 L20.100 19.600" stroke="#444" stroke-width="1.9" fill="none" stroke-linejoin="miter"/></svg>
<div id="stop" class="abs" style="left:1518.2px;top:1088.82px;font-size:20.30px;line-height:1;white-space:nowrap;color:#3a3a3a;font-weight:normal;letter-spacing:-0.652px;">Stop advanced analysis</div>
<div class="abs" style="left:1219.4px;top:1192.6px;width:645.7px;height:42.5px;border:1.8px solid #5cc17e;border-radius:11px;background:#f6fafc"></div>
<div id="pill1" class="abs" style="left:1233.7px;top:1206.10px;font-size:20.20px;line-height:1;white-space:nowrap;color:#3a3a3a;font-weight:normal;letter-spacing:-0.222px;">Overlay Holt’s linear and damped trend forecasts for direct comparison</div>
<div class="abs" style="left:1219.4px;top:1249px;width:599.7px;height:41.7px;border:1.8px solid #5cc17e;border-radius:11px;background:#f6fafc"></div>
<div id="pill2" class="abs" style="left:1233.7px;top:1262.10px;font-size:20.20px;line-height:1;white-space:nowrap;color:#3a3a3a;font-weight:normal;letter-spacing:-0.223px;">Fit and plot a Holt-Winters seasonal model for improved accuracy</div>
</body></html>
